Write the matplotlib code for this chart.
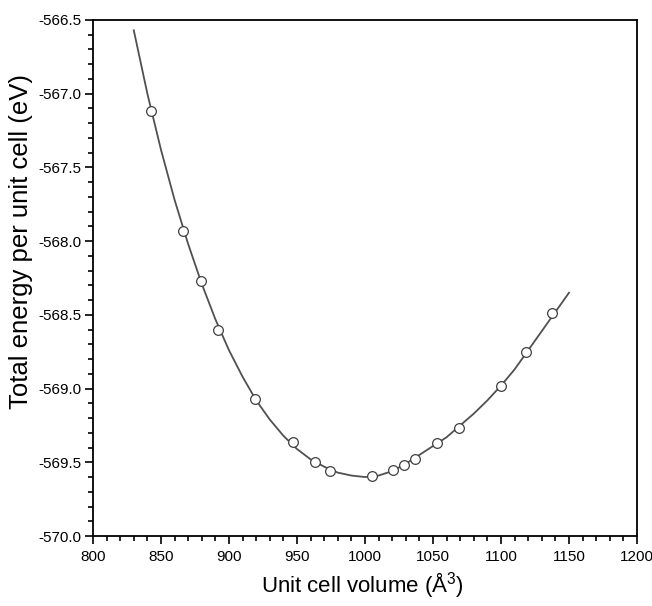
import numpy as np
import matplotlib
matplotlib.use('Agg')
import matplotlib.pyplot as plt
from matplotlib.ticker import MultipleLocator, FormatStrFormatter

plt.rcParams['font.family'] = ['Liberation Sans', 'DejaVu Sans']
plt.rcParams['axes.unicode_minus'] = False

# ---- Data ------------------------------------------------------------
# computed points
volume = [842.7, 866.3, 879.6, 892.1, 919.3, 947.3, 963.5, 974.6, 1004.8,
          1020.3, 1028.4, 1036.5, 1052.7, 1068.9, 1099.8, 1118.2, 1137.4]
energy = [-567.12, -567.93, -568.27, -568.60, -569.07, -569.36, -569.50,
          -569.56, -569.59, -569.55, -569.52, -569.48, -569.37, -569.27,
          -568.98, -568.75, -568.49]

# fitted curve, sampled every 10 A^3
fit_volume = [830, 840, 850, 860, 870, 880, 890, 900, 910, 920, 930, 940,
              950, 960, 970, 980, 990, 1000, 1010, 1020, 1030, 1040, 1050,
              1060, 1070, 1080, 1090, 1100, 1110, 1120, 1130, 1140, 1150]
fit_energy = [-566.57, -567.00, -567.38, -567.72, -568.02, -568.29, -568.53,
              -568.74, -568.92, -569.08, -569.21, -569.32, -569.41, -569.48,
              -569.53, -569.57, -569.59, -569.60, -569.59, -569.56, -569.51,
              -569.45, -569.39, -569.33, -569.25, -569.17, -569.08, -568.98,
              -568.87, -568.74, -568.61, -568.48, -568.35]

fig = plt.figure(figsize=(6.52, 6.06), dpi=100)
ax = fig.add_axes([0.1426, 0.1155, 0.977 - 0.1426, 0.967 - 0.1155])

ax.plot(fit_volume, fit_energy, color='#505050', lw=1.3, zorder=2)
ax.plot(volume, energy, 'o', ms=7, mfc='white', mec='#404040', mew=0.9, zorder=3)

ax.set_xlim(800, 1200)
ax.set_ylim(-570.0, -566.5)
ax.xaxis.set_major_locator(MultipleLocator(50))
ax.xaxis.set_minor_locator(MultipleLocator(10))
ax.yaxis.set_major_locator(MultipleLocator(0.5))
ax.yaxis.set_minor_locator(MultipleLocator(0.1))
ax.yaxis.set_major_formatter(FormatStrFormatter('%.1f'))

ax.tick_params(which='both', direction='out', top=False, right=False,
               width=1.2, labelsize=11)
ax.tick_params(which='major', length=6, pad=4)
ax.tick_params(axis='y', which='major', pad=2.5)
ax.tick_params(which='minor', length=3.5)
for s in ax.spines.values():
    s.set_linewidth(1.3)

ax.set_xlabel(r'Unit cell volume (Å$^{\mathregular{3}}$)', fontsize=16)
ax.set_ylabel('Total energy per unit cell (eV)', fontsize=18.5)
ax.xaxis.set_label_coords(0.496, -0.066)
ax.yaxis.set_label_coords(-0.11, 0.57)

fig.savefig('out.png', dpi=100)
